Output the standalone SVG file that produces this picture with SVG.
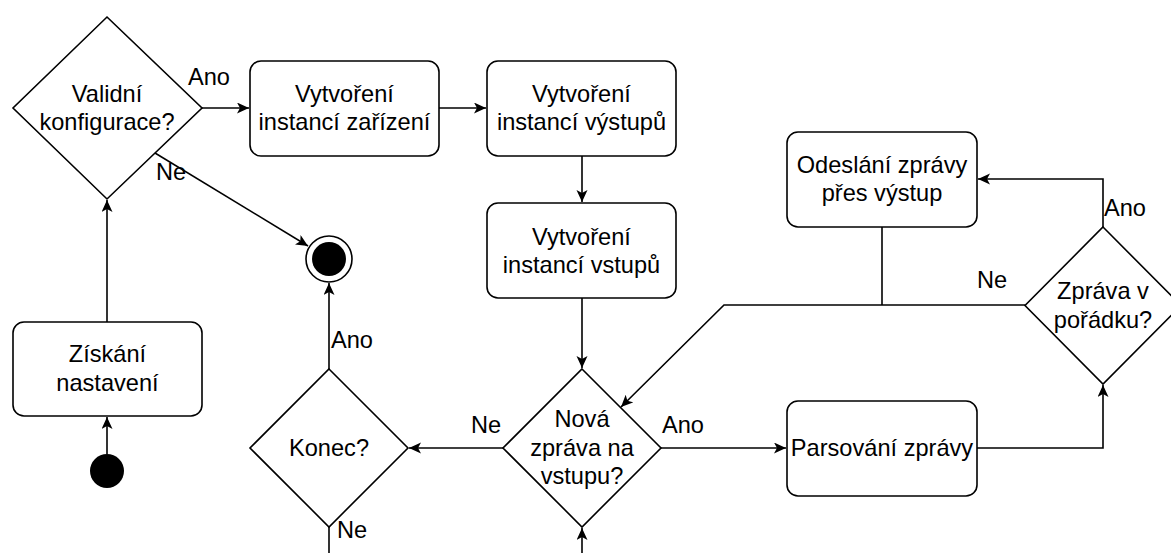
<svg xmlns="http://www.w3.org/2000/svg" width="1171" height="553" viewBox="0 0 1171 553">
<style>
.shape{fill:#fff;stroke:#000;stroke-width:1.6}
.t{font-family:"Liberation Sans",Arial,sans-serif;font-size:23.6px;fill:#000;text-anchor:middle}
.l{font-family:"Liberation Sans",Arial,sans-serif;font-size:23.6px;fill:#000}
.c{fill:none;stroke:#000;stroke-width:1.6}
.a{marker-end:url(#arr)}
</style>
<defs>
<marker id="arr" markerUnits="userSpaceOnUse" markerWidth="14" markerHeight="12" refX="12" refY="5.5" orient="auto">
<path d="M0,0 L12,5.5 L0,11 L3,5.5 z" fill="#000"/>
</marker>
</defs>
<rect width="1171" height="553" fill="#fff"/>
<g id="connectors">
<path class="c a" d="M107,454 L107,417"/>
<path class="c a" d="M107,322 L107,200"/>
<path class="c a" d="M202,108 L249,108"/>
<path class="c a" d="M155,153 L308,246"/>
<path class="c a" d="M439,108 L486,108"/>
<path class="c a" d="M582,156 L582,202"/>
<path class="c a" d="M582,298 L582,368"/>
<path class="c a" d="M661,448 L786,448"/>
<path class="c a" d="M503,448 L409,448"/>
<path class="c a" d="M977,448 L1103,448 L1103,385"/>
<path class="c a" d="M1103,227 L1103,179 L978,179"/>
<path class="c a" d="M1025,305 L724,305 L621,407"/>
<path class="c" d="M882,227 L882,305"/>
<path class="c a" d="M329,369 L329,283"/>
<path class="c" d="M329,527 L329,553"/>
<path class="c a" d="M582,553 L582,528"/>
<text class="l" x="188" y="85">Ano</text>
<text class="l" x="156" y="180">Ne</text>
<text class="l" x="662" y="433">Ano</text>
<text class="l" x="471" y="433">Ne</text>
<text class="l" x="1104" y="216">Ano</text>
<text class="l" x="977" y="288">Ne</text>
<text class="l" x="331" y="348">Ano</text>
<text class="l" x="337" y="538">Ne</text>
</g>
<g id="validni">
<polygon class="shape" points="107,17 202,108 107,199 13,108"/>
<text class="t" x="107" y="102">Validní</text>
<text class="t" x="107" y="130">konfigurace?</text>
</g>
<g id="zarizeni">
<rect class="shape" x="250" y="61" width="189" height="95" rx="11"/>
<text class="t" x="344.5" y="102">Vytvoření</text>
<text class="t" x="344.5" y="130">instancí zařízení</text>
</g>
<g id="vystupu">
<rect class="shape" x="487" y="61" width="189" height="95" rx="11"/>
<text class="t" x="581.5" y="102">Vytvoření</text>
<text class="t" x="581.5" y="130">instancí výstupů</text>
</g>
<g id="vstupu">
<rect class="shape" x="487" y="203" width="189" height="95" rx="11"/>
<text class="t" x="581.5" y="245">Vytvoření</text>
<text class="t" x="581.5" y="273">instancí vstupů</text>
</g>
<g id="odeslani">
<rect class="shape" x="787" y="132" width="190" height="95" rx="11"/>
<text class="t" x="882" y="173">Odeslání zprávy</text>
<text class="t" x="882" y="201">přes výstup</text>
</g>
<g id="zprava-ok">
<polygon class="shape" points="1103,227 1181,305.5 1103,384 1025,305.5"/>
<text class="t" x="1103" y="299">Zpráva v</text>
<text class="t" x="1103" y="328">pořádku?</text>
</g>
<g id="nova">
<polygon class="shape" points="582,369 661,448 582,527 503,448"/>
<text class="t" x="582" y="427">Nová</text>
<text class="t" x="582" y="456">zpráva na</text>
<text class="t" x="582" y="484">vstupu?</text>
</g>
<g id="parsovani">
<rect class="shape" x="787" y="401" width="190" height="95" rx="11"/>
<text class="t" x="882" y="456">Parsování zprávy</text>
</g>
<g id="konec">
<polygon class="shape" points="329,369 408,448 329,527 250,448"/>
<text class="t" x="329" y="456">Konec?</text>
</g>
<g id="ziskani">
<rect class="shape" x="13" y="322" width="189" height="94" rx="11"/>
<text class="t" x="107.5" y="362">Získání</text>
<text class="t" x="107.5" y="391">nastavení</text>
</g>
<g id="start">
<circle cx="107" cy="471" r="17" fill="#000"/>
</g>
<g id="end">
<circle cx="329" cy="259" r="23" fill="#fff" stroke="#000" stroke-width="1.6"/>
<circle cx="329" cy="259" r="17" fill="#000"/>
</g>
</svg>
